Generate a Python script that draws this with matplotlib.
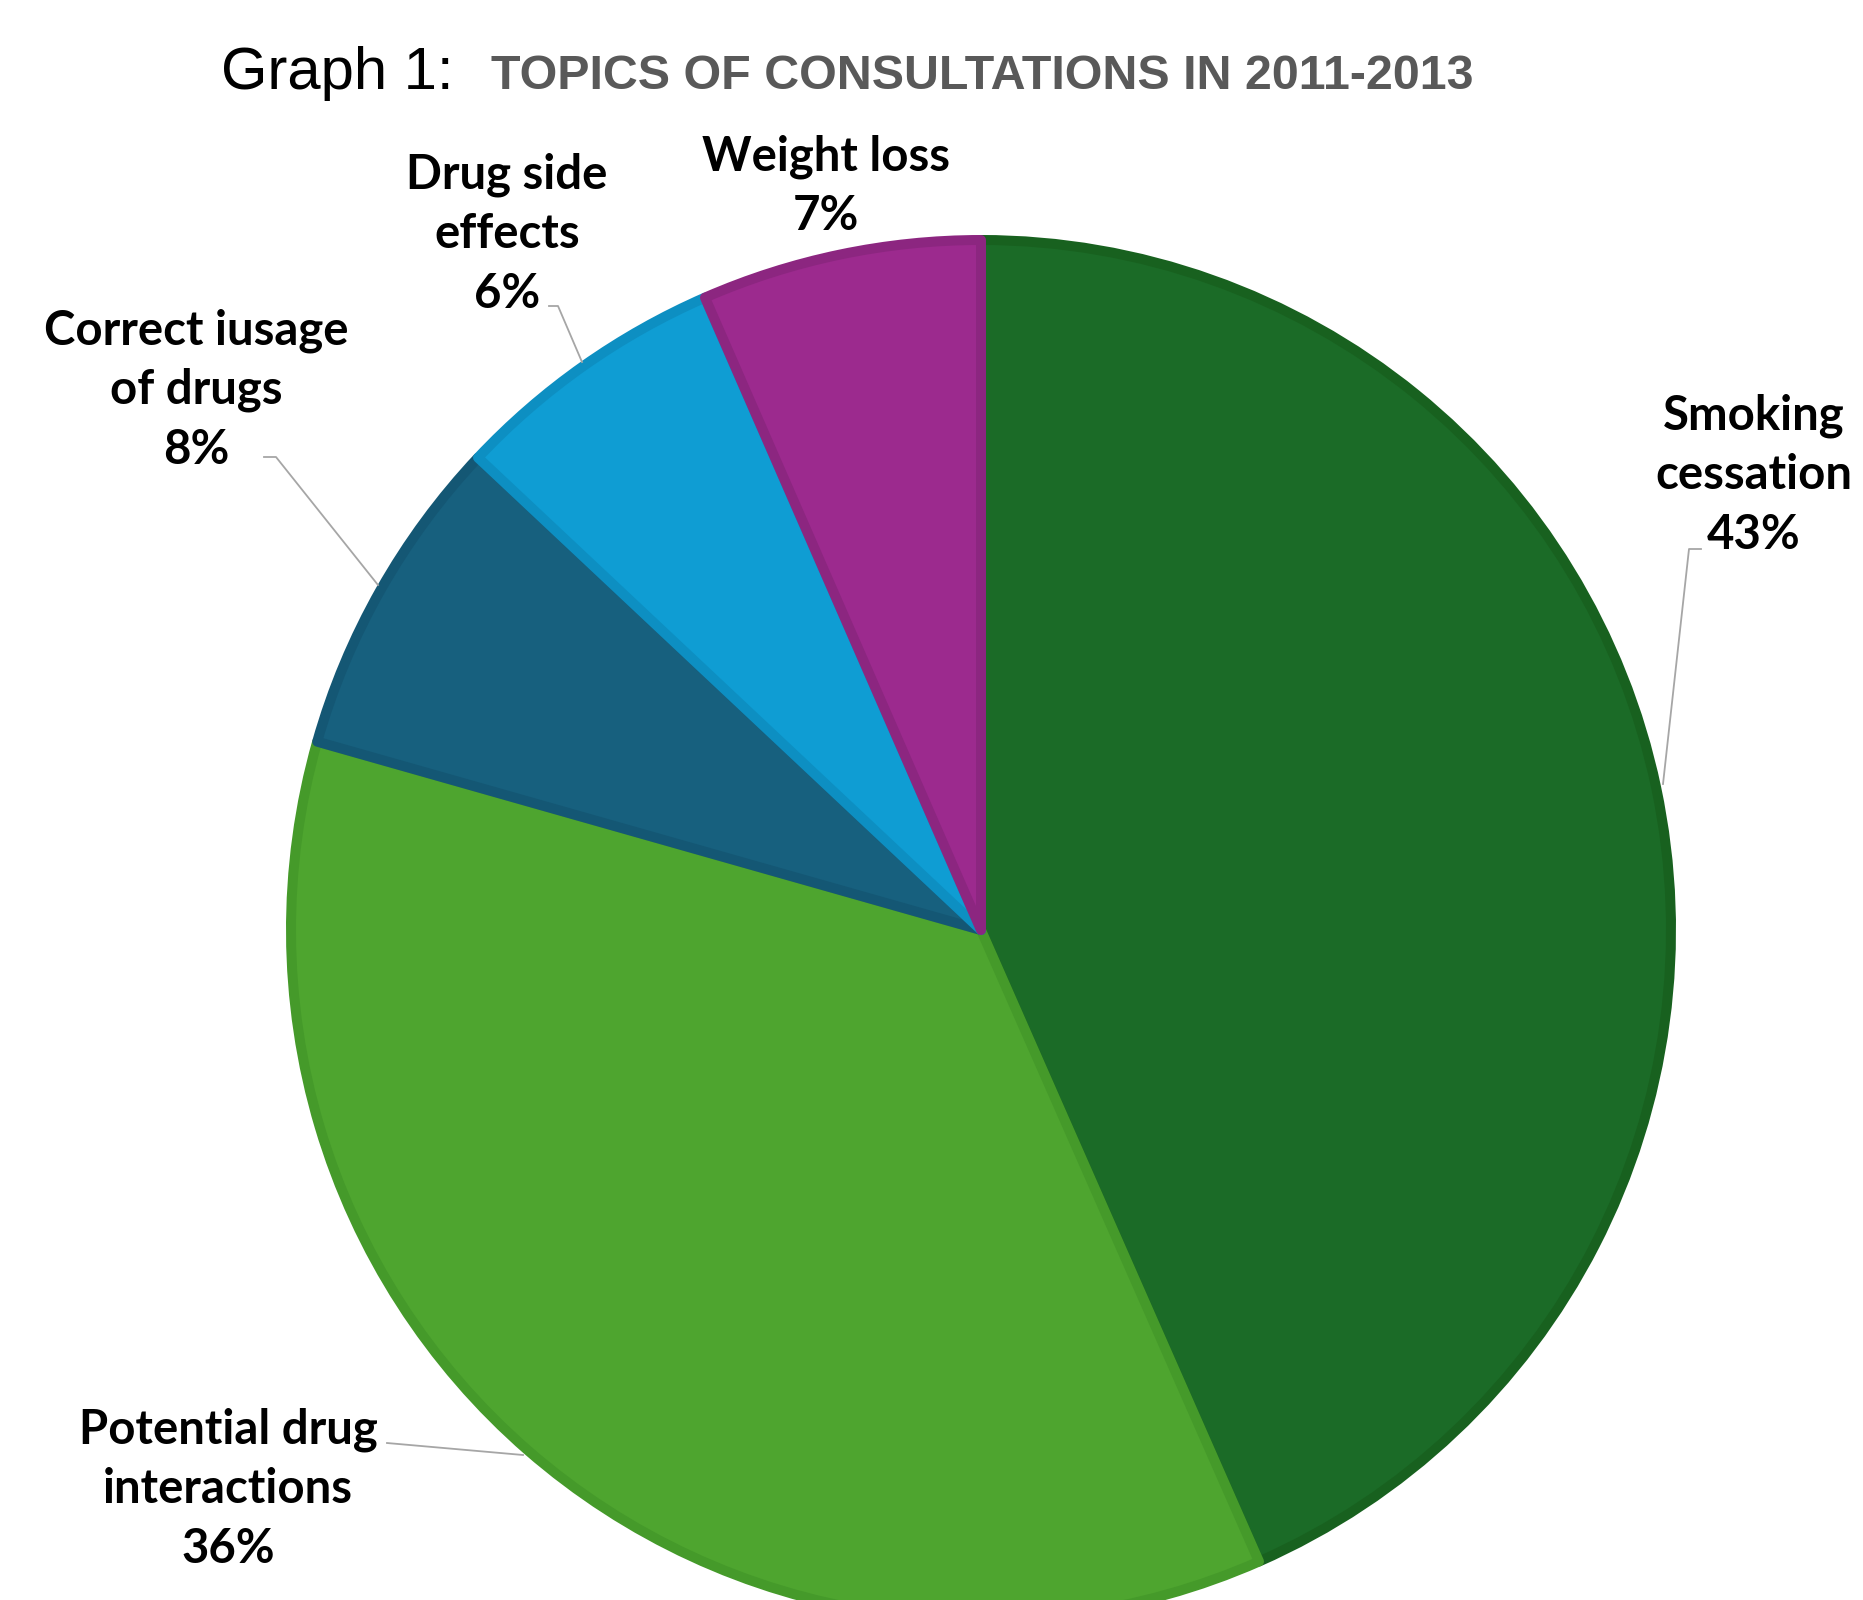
import matplotlib.pyplot as plt

temas = ["Smoking\ncessation", "Potential drug\ninteractions", "Correct iusage\nof drugs",
         "Drug side\neffects", "Weight loss"]
porcentajes = [43.4, 36.0, 7.6, 6.45, 6.55]
colores = ["#1B6B27", "#4EA52F", "#17607E", "#0F9DD3", "#9C2A8E"]
bordes = ["#18611F", "#459A2A", "#145774", "#0D8FC2", "#8C2680"]

# posiciones de las etiquetas (píxeles) y de las líneas guía
pos_etiquetas = [(1754, 475), (228, 1489), (196, 390), (507, 234), (826, 186)]
guias = [
    [(1701, 549), (1689, 549), (1663, 784)],
    [(387, 1443), (523, 1455)],
    [(264, 457), (276, 457), (378, 585)],
    [(549, 306), (558, 306), (582, 362)],
    None,
]

W, H = 1863, 1600
fig = plt.figure(figsize=(W / 100, H / 100), dpi=100)
ax = fig.add_axes([0, 0, 1, 1])

wedges, _ = ax.pie(porcentajes, colors=colores, startangle=-90, counterclock=True,
                   center=(981, 930), radius=690,
                   wedgeprops=dict(linewidth=7.2, joinstyle="round"))
for w, b in zip(wedges, bordes):
    w.set_edgecolor(b)

ax.set_xlim(0, W)
ax.set_ylim(H, 0)
ax.set_aspect("equal")
ax.axis("off")

for tema, p, (x, y) in zip(temas, porcentajes, pos_etiquetas):
    ax.text(x, y, f"{tema}\n{round(p)}%", ha="center", va="center", family="Lato",
            fontweight="bold", fontsize=34, linespacing=1.43, color="black")

for g in guias:
    if g:
        ax.plot([q[0] for q in g], [q[1] for q in g], color="#A6A6A6", lw=1.3)

ax.text(221, 89, "Graph 1:", family="Liberation Sans", fontsize=43, va="baseline", color="black")
ax.text(491, 89, "TOPICS OF CONSULTATIONS IN 2011-2013", family="Liberation Sans",
        fontweight="bold", fontsize=34.8, va="baseline", color="#595959")

fig.savefig("out.png", dpi=100)
